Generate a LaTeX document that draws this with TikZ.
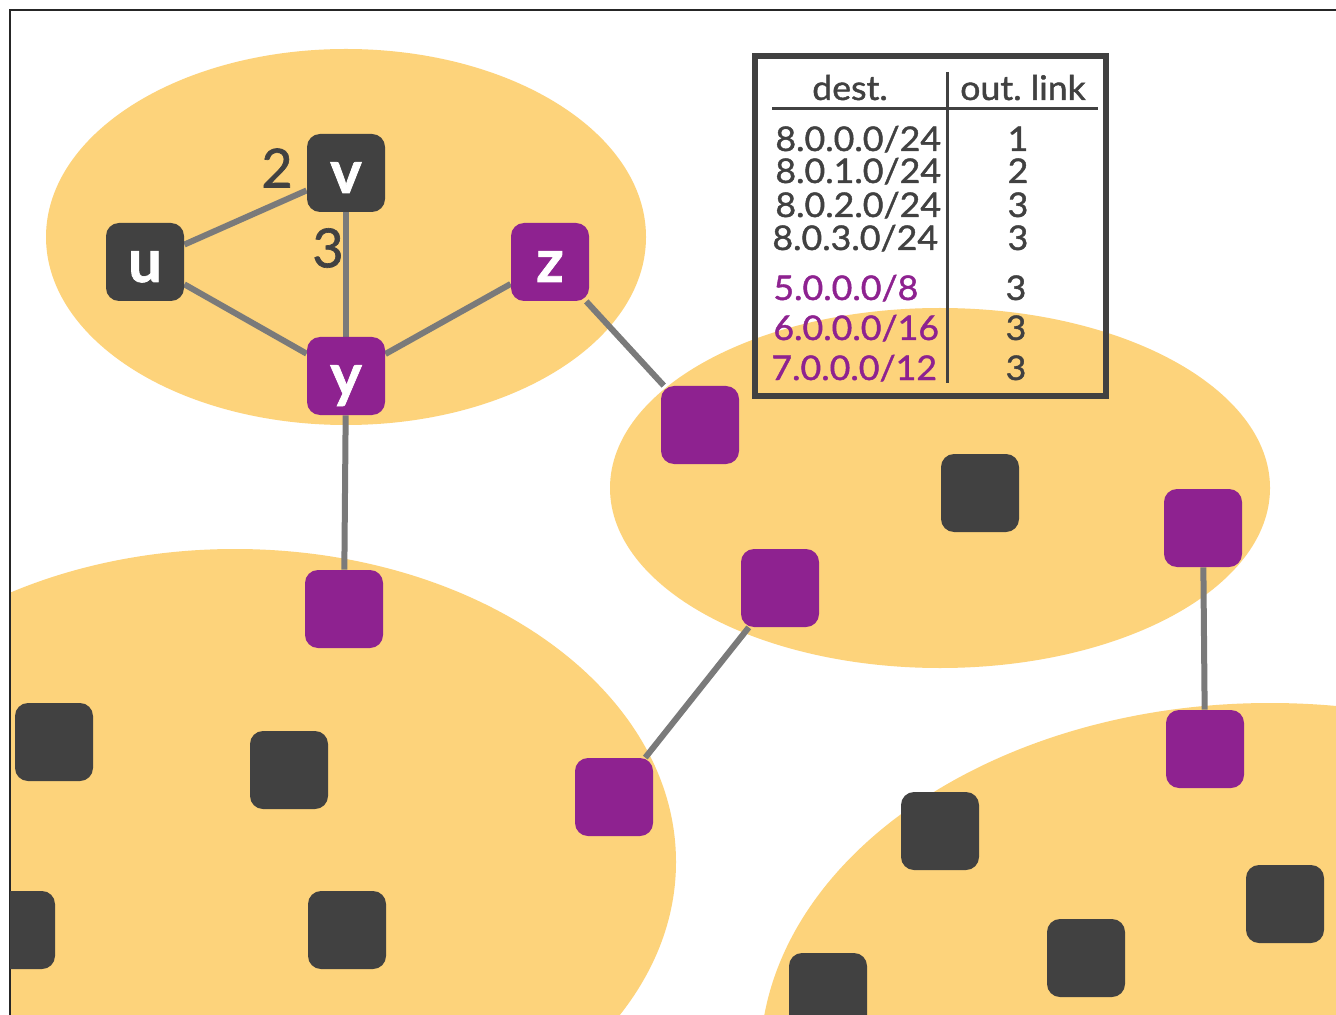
\documentclass[tikz,border=0pt]{standalone}
\usepackage{fontspec}
\setmainfont{Lato}
\newfontfamily\tabfont[FakeStretch=1.05,FakeBold=1.2]{Lato}
\newfontfamily\costfont[FakeBold=1.2]{Lato}
\newfontfamily\nodefont[BoldFeatures={FakeBold=1.2}]{Lato}
\pgfdeclarelayer{back}
\pgfdeclarelayer{mid}
\pgfsetlayers{back,mid,main}
\definecolor{area}{HTML}{FDD37B}
\definecolor{rpurple}{HTML}{8E2290}
\definecolor{rdark}{HTML}{414141}
\definecolor{linkc}{HTML}{7A7A7A}
\begin{document}
\begin{tikzpicture}[x=0.5pt,y=-0.5pt,
  router/.style={minimum size=39pt, inner sep=0pt, rounded corners=6.5pt, fill=#1, text=white,
    text height=20pt, text depth=0pt,
    font=\nodefont\bfseries\fontsize{30}{30}\selectfont},
  gw/.style={router=rpurple},
  inr/.style={router=rdark},
  conn/.style={draw=linkc, line width=3pt},
  cost/.style={text=rdark, font=\costfont\fontsize{27}{27}\selectfont},
  tabtxt/.style={inner sep=0pt, font=\tabfont\fontsize{17}{17}\selectfont, text=rdark},
  tabp/.style={tabtxt, text=rpurple},
  tabline/.style={draw=rdark, line width=1.5pt}]
\useasboundingbox (0,0) rectangle (1336,1015);
\begin{pgfonlayer}{back}
\fill[white] (0,0) rectangle (1336,1015);
\begin{scope}
\clip (10,10) rectangle (1336,1015);
\fill[area] (346,237) ellipse [x radius=300, y radius=188];
\fill[area] (940,488) ellipse [x radius=330, y radius=180];
\fill[area] (235,862) ellipse [x radius=441, y radius=313];
\fill[area] (1270,1062) ellipse [x radius=510, y radius=359];
\end{scope}
\end{pgfonlayer}
\draw[black!85, line width=1pt] (10,1015) -- (10,10) -- (1336,10);
\begin{scope}
\clip (10,10) rectangle (1336,1015);
\node[inr] (v) at (346,173) {v};
\node[inr] (u) at (145,262) {u};
\node[gw] (z) at (550,262) {z};
\node[gw] (y) at (346,376) {y};
\node[gw] (g1) at (344,609) {};
\node[gw] (g2) at (700,425) {};
\node[inr] (r1) at (980,493) {};
\node[gw] (g3) at (1203,528) {};
\node[gw] (g4) at (780,588) {};
\node[gw] (g5) at (614,797) {};
\node[gw] (g6) at (1205,749) {};
\node[inr] (a1) at (54,742) {};
\node[inr] (a2) at (289,770) {};
\node[inr] (a3) at (16,930) {};
\node[inr] (a4) at (347,930) {};
\node[inr] (b1) at (940,831) {};
\node[inr] (b2) at (1285,904) {};
\node[inr] (b3) at (1086,958) {};
\node[inr] (b4) at (828,992) {};
\end{scope}
\begin{pgfonlayer}{mid}
\draw[conn] (u) -- (v);
\draw[conn] (v) -- (y);
\draw[conn] (u) -- (y);
\draw[conn] (y) -- (z);
\draw[conn] (z) -- (g2);
\draw[conn] (y) -- (g1);
\draw[conn] (g4) -- (g5);
\draw[conn] (g3) -- (g6);
\end{pgfonlayer}
\node[cost] (c2) at (277,168) {2};
\node[cost] (c3) at (328,248) {3};
% table
\draw[rdark, line width=3.3pt] (755,56) rectangle (1106,396);
\draw[tabline] (772,109) -- (1098,109);
\draw[tabline] (947,72) -- (947,383);
\node[tabtxt, anchor=base] (h1) at (850,100) {dest.};
\node[tabtxt, anchor=base] (h2) at (1023,100) {out.\ link};
\node[tabtxt, anchor=base west] (d1) at (775,151) {8.0.0.0/24};
\node[tabtxt, anchor=base west] (d2) at (775,183) {8.0.1.0/24};
\node[tabtxt, anchor=base west] (d3) at (775,217) {8.0.2.0/24};
\node[tabtxt, anchor=base west] (d4) at (772,250) {8.0.3.0/24};
\node[tabp, anchor=base west] (d5) at (773,300) {5.0.0.0/8};
\node[tabp, anchor=base west] (d6) at (773,340) {6.0.0.0/16};
\node[tabp, anchor=base west] (d7) at (771,380) {7.0.0.0/12};
\node[tabtxt, anchor=base] (o1) at (1018,151) {1};
\node[tabtxt, anchor=base] (o2) at (1018,183) {2};
\node[tabtxt, anchor=base] (o3) at (1018,217) {3};
\node[tabtxt, anchor=base] (o4) at (1018,250) {3};
\node[tabtxt, anchor=base] (o5) at (1016,300) {3};
\node[tabtxt, anchor=base] (o6) at (1016,340) {3};
\node[tabtxt, anchor=base] (o7) at (1016,380) {3};
\end{tikzpicture}
\end{document}
